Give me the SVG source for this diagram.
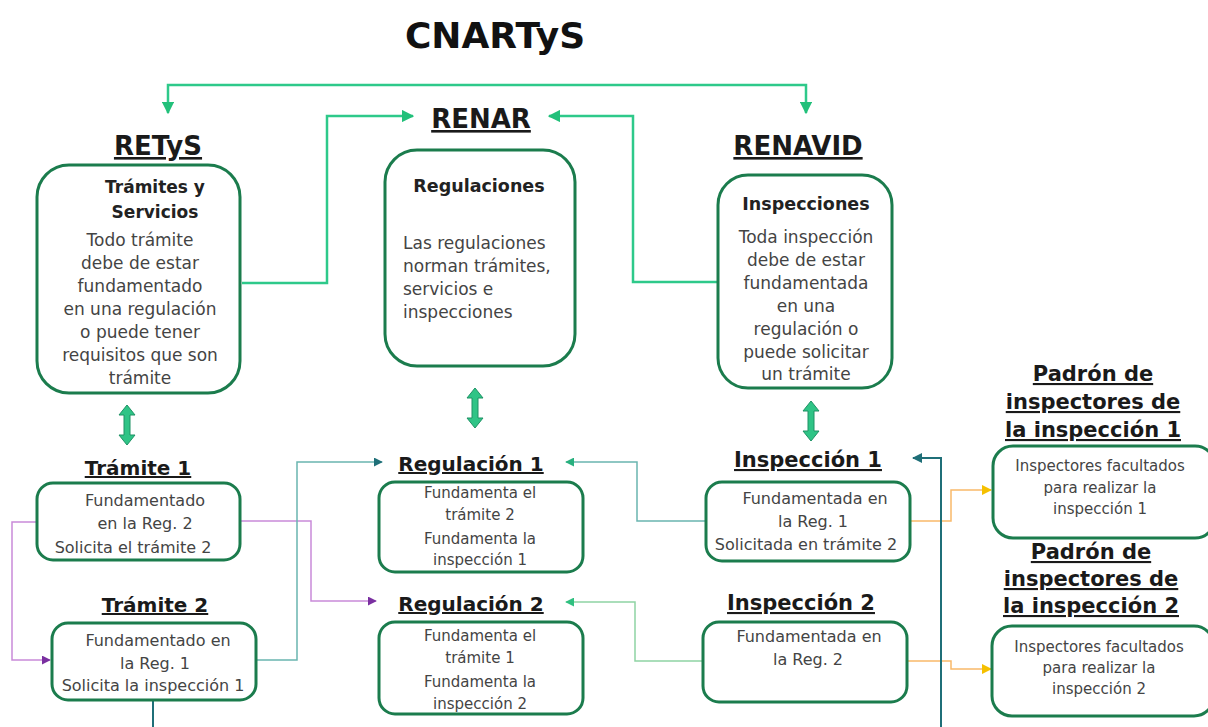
<svg xmlns="http://www.w3.org/2000/svg" width="1208" height="727" viewBox="0 0 1208 727">
<style>
text{font-family:"DejaVu Sans","Liberation Sans",sans-serif;text-anchor:middle}
.title{font-size:36px;font-weight:bold;fill:#111}
.hd{font-size:26px;font-weight:bold;fill:#1a1a1a;text-decoration:underline}
.sh{font-size:20px;font-weight:bold;fill:#1a1a1a;text-decoration:underline}
.bh{font-size:17.5px;font-weight:bold;fill:#222}
.tb{font-size:17px;fill:#444}
.ts{font-size:16px;fill:#444}
.tx{font-size:15px;fill:#444}
.box{fill:#fff;stroke:#1b7c4d;stroke-width:3}
.c{fill:none}
.dbl{fill:#2fc486;stroke:#1e9265;stroke-width:1}
</style>
<defs>
<marker id="mG" viewBox="0 0 10 10" refX="9" refY="5" markerWidth="5" markerHeight="5" orient="auto-start-reverse" markerUnits="strokeWidth"><path d="M0,0L10,5L0,10z" fill="#22c07a"/></marker>
<marker id="mP" viewBox="0 0 10 10" refX="9" refY="5" markerWidth="6" markerHeight="6" orient="auto" markerUnits="strokeWidth"><path d="M0,0L10,5L0,10z" fill="#7a2fa0"/></marker>
<marker id="mT" viewBox="0 0 10 10" refX="9" refY="5" markerWidth="6" markerHeight="6" orient="auto" markerUnits="strokeWidth"><path d="M0,0L10,5L0,10z" fill="#1f6f78"/></marker>
<marker id="mTG" viewBox="0 0 10 10" refX="9" refY="5" markerWidth="6" markerHeight="6" orient="auto" markerUnits="strokeWidth"><path d="M0,0L10,5L0,10z" fill="#28b07e"/></marker>
<marker id="mLG" viewBox="0 0 10 10" refX="9" refY="5" markerWidth="6" markerHeight="6" orient="auto" markerUnits="strokeWidth"><path d="M0,0L10,5L0,10z" fill="#30c080"/></marker>
<marker id="mY" viewBox="0 0 10 10" refX="9" refY="5" markerWidth="7" markerHeight="7" orient="auto" markerUnits="strokeWidth"><path d="M0,0L10,5L0,10z" fill="#f5c000"/></marker>
<marker id="mTD" viewBox="0 0 10 10" refX="9" refY="5" markerWidth="5" markerHeight="5" orient="auto" markerUnits="strokeWidth"><path d="M0,0L10,5L0,10z" fill="#1f6f78"/></marker>
<path id="dbl" d="M0,0L8,10L3,10L3,30L8,30L0,40L-8,30L-3,30L-3,10L-8,10Z"/>
</defs>

<text class="title" x="495" y="48">CNARTyS</text>

<g id="connectors">
<path class="c" d="M806,113V85H168V113" stroke="#2ec98a" stroke-width="2.5" marker-start="url(#mG)" marker-end="url(#mG)"/>
<path class="c" d="M242,283H327V116H413" stroke="#2ec98a" stroke-width="2.5" marker-end="url(#mG)"/>
<path class="c" d="M718,282H633V116H549" stroke="#2ec98a" stroke-width="2.5" marker-end="url(#mG)"/>
<path class="c" d="M52,522H12V660H50" stroke="#c98ad9" stroke-width="1.5" marker-end="url(#mP)"/>
<path class="c" d="M240,521H311V601H376" stroke="#c98ad9" stroke-width="1.5" marker-end="url(#mP)"/>
<path class="c" d="M256,660H297V462H382" stroke="#6ab5b0" stroke-width="1.5" marker-end="url(#mT)"/>
<path class="c" d="M706,521H637V462H566" stroke="#6ab5b0" stroke-width="1.5" marker-end="url(#mTG)"/>
<path class="c" d="M703,661H635V602H566" stroke="#8fd4a4" stroke-width="1.5" marker-end="url(#mLG)"/>
<path class="c" d="M910,521H951V490H991" stroke="#f9b96a" stroke-width="1.5" marker-end="url(#mY)"/>
<path class="c" d="M907,661H951V669H991" stroke="#f9b96a" stroke-width="1.5" marker-end="url(#mY)"/>
<path class="c" d="M153,700V727" stroke="#1f6f78" stroke-width="2"/>
<path class="c" d="M941,727V458H913" stroke="#1f6f78" stroke-width="2" marker-end="url(#mTD)"/>
<use href="#dbl" class="dbl" x="127" y="405"/>
<use href="#dbl" class="dbl" x="475" y="388"/>
<use href="#dbl" class="dbl" x="811" y="401"/>
</g>

<g id="retys">
<text class="hd" x="158" y="155">RETyS</text>
<rect class="box" x="37" y="165" width="203" height="228" rx="32"/>
<text class="bh" x="155" y="193" style="font-size:17px">Trámites y</text>
<text class="bh" x="155" y="218" style="font-size:17px">Servicios</text>
<text class="tb" x="140" y="246">Todo trámite</text>
<text class="tb" x="140" y="269">debe de estar</text>
<text class="tb" x="140" y="292">fundamentado</text>
<text class="tb" x="140" y="315">en una regulación</text>
<text class="tb" x="140" y="338">o puede tener</text>
<text class="tb" x="140" y="361">requisitos que son</text>
<text class="tb" x="140" y="384">trámite</text>
</g>

<g id="renar">
<text class="hd" x="481" y="128">RENAR</text>
<rect class="box" x="385" y="150" width="190" height="216" rx="32"/>
<text class="bh" x="479" y="192">Regulaciones</text>
<text class="tb" x="403" y="249" style="text-anchor:start">Las regulaciones</text>
<text class="tb" x="403" y="272" style="text-anchor:start">norman trámites,</text>
<text class="tb" x="403" y="295" style="text-anchor:start">servicios e</text>
<text class="tb" x="403" y="318" style="text-anchor:start">inspecciones</text>
</g>

<g id="renavid">
<text class="hd" x="798" y="155">RENAVID</text>
<rect class="box" x="718" y="175" width="174" height="213" rx="30"/>
<text class="bh" x="806" y="210">Inspecciones</text>
<text class="tb" x="806" y="243">Toda inspección</text>
<text class="tb" x="806" y="266">debe de estar</text>
<text class="tb" x="806" y="289">fundamentada</text>
<text class="tb" x="806" y="312">en una</text>
<text class="tb" x="806" y="335">regulación o</text>
<text class="tb" x="806" y="358">puede solicitar</text>
<text class="tb" x="806" y="380">un trámite</text>
</g>

<g id="tramite1">
<text class="sh" x="138" y="475">Trámite 1</text>
<rect class="box" x="37" y="483" width="203" height="77" rx="16"/>
<text class="ts" x="145" y="506">Fundamentado</text>
<text class="ts" x="145" y="529">en la Reg. 2</text>
<text class="ts" x="133" y="553">Solicita el trámite 2</text>
</g>

<g id="tramite2">
<text class="sh" x="155" y="612">Trámite 2</text>
<rect class="box" x="52" y="623" width="204" height="77" rx="16"/>
<text class="ts" x="158" y="646">Fundamentado en</text>
<text class="ts" x="155" y="669">la Reg. 1</text>
<text class="ts" x="153" y="691">Solicita la inspección 1</text>
</g>

<g id="regulacion1">
<text class="sh" x="471" y="471">Regulación 1</text>
<rect class="box" x="379" y="482" width="204" height="90" rx="16"/>
<text class="tx" x="480" y="498">Fundamenta el</text>
<text class="tx" x="480" y="520">trámite 2</text>
<text class="tx" x="480" y="544">Fundamenta la</text>
<text class="tx" x="480" y="565">inspección 1</text>
</g>

<g id="regulacion2">
<text class="sh" x="471" y="611">Regulación 2</text>
<rect class="box" x="379" y="622" width="204" height="92" rx="16"/>
<text class="tx" x="480" y="641">Fundamenta el</text>
<text class="tx" x="480" y="663">trámite 1</text>
<text class="tx" x="480" y="687">Fundamenta la</text>
<text class="tx" x="480" y="709">inspección 2</text>
</g>

<g id="inspeccion1">
<text class="sh" x="808" y="467" style="font-size:21px">Inspección 1</text>
<rect class="box" x="706" y="482" width="204" height="79" rx="16"/>
<text class="ts" x="815" y="504">Fundamentada en</text>
<text class="ts" x="813" y="527">la Reg. 1</text>
<text class="ts" x="806" y="550">Solicitada en trámite 2</text>
</g>

<g id="inspeccion2">
<text class="sh" x="801" y="610" style="font-size:21px">Inspección 2</text>
<rect class="box" x="703" y="622" width="204" height="80" rx="16"/>
<text class="ts" x="809" y="642">Fundamentada en</text>
<text class="ts" x="808" y="665">la Reg. 2</text>
</g>

<g id="padron1">
<text class="sh" x="1093" y="381" style="font-size:21px">Padrón de</text>
<text class="sh" x="1093" y="409" style="font-size:21px">inspectores de</text>
<text class="sh" x="1093" y="437" style="font-size:21px">la inspección 1</text>
<rect class="box" x="993" y="446" width="222" height="92" rx="20"/>
<text class="tx" x="1100" y="471">Inspectores facultados</text>
<text class="tx" x="1100" y="493">para realizar la</text>
<text class="tx" x="1100" y="514">inspección 1</text>
</g>

<g id="padron2">
<text class="sh" x="1091" y="559" style="font-size:21px">Padrón de</text>
<text class="sh" x="1091" y="586" style="font-size:21px">inspectores de</text>
<text class="sh" x="1091" y="613" style="font-size:21px">la inspección 2</text>
<rect class="box" x="992" y="626" width="222" height="90" rx="20"/>
<text class="tx" x="1099" y="652">Inspectores facultados</text>
<text class="tx" x="1099" y="673">para realizar la</text>
<text class="tx" x="1099" y="694">inspección 2</text>
</g>
</svg>
